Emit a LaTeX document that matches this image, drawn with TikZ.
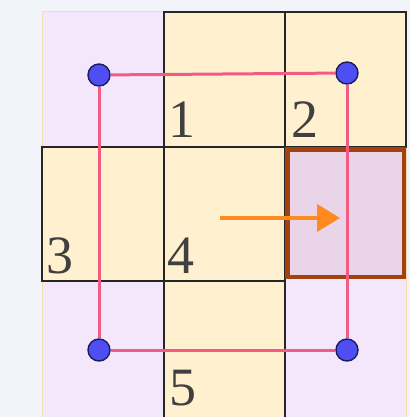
\documentclass[tikz,border=0pt]{standalone}
\usepackage{fontspec}
\setmainfont{Liberation Serif}
\usetikzlibrary{arrows.meta}
\definecolor{pagebg}{HTML}{F1F5FA}
\definecolor{lav}{HTML}{F4E6FB}
\definecolor{cream}{HTML}{FFF1D0}
\definecolor{hilite}{HTML}{E9D4E8}
\definecolor{brownb}{HTML}{A3420F}
\definecolor{pinkl}{HTML}{F25C84}
\definecolor{dotblue}{HTML}{4E4EF2}
\definecolor{dotedge}{HTML}{1C1C5C}
\definecolor{orangea}{HTML}{FF8A1E}
\definecolor{numcol}{HTML}{404040}
\definecolor{tanedge}{HTML}{F2DDB0}
\tikzset{
  cellbox/.style={fill=cream, draw=black!85, line width=1.8pt},
  num/.style={anchor=base west, inner sep=0pt, text=numcol, font=\fontsize{54}{54}\selectfont},
  dotnode/.style={circle, fill=dotblue, draw=dotedge, line width=1.4pt, minimum size=22pt, inner sep=0pt},
  pinkline/.style={draw=pinkl, line width=3pt},
  movearrow/.style={draw=orangea, line width=4pt, -{Triangle[length=23pt,width=27pt]}}
}
\begin{document}
\begin{tikzpicture}[x=1pt,y=-1pt]
\useasboundingbox (0,0) rectangle (410,417);
\fill[pagebg] (0,0) rectangle (410,417);
% grid background
\fill[lav, draw=tanedge, line width=1pt] (42,12) rectangle (406,418);
% cream cells
\draw[cellbox] (164,12) rectangle (285,147);
\draw[cellbox] (285,12) rectangle (406,147);
\draw[cellbox] (42,147) rectangle (164,281);
\draw[cellbox] (164,147) rectangle (285,281);
\draw[cellbox] (164,281) rectangle (285,420);
% highlighted cell
\draw[fill=hilite, draw=brownb, line width=4.5pt] (287.5,149.5) rectangle (404,277);
% numbers
\node[num] (n1) at (168,137) {1};
\node[num] (n2) at (291,137) {2};
\node[num] (n3) at (46,273) {3};
\node[num] (n4) at (167,273) {4};
\node[num] (n5) at (169,405) {5};
% dots
\node[dotnode] (tl) at (99,75) {};
\node[dotnode] (tr) at (347,73) {};
\node[dotnode] (bl) at (99,350) {};
\node[dotnode] (br) at (347,350) {};
\draw[pinkline] (tl) -- (tr);
\draw[pinkline] (tl) -- (bl);
\draw[pinkline] (tr) -- (br);
\draw[pinkline] (bl) -- (br);
% arrow
\coordinate (as) at (220,218);
\coordinate (ae) at (340,218);
\draw[movearrow] (as) -- (ae);
\end{tikzpicture}
\end{document}
